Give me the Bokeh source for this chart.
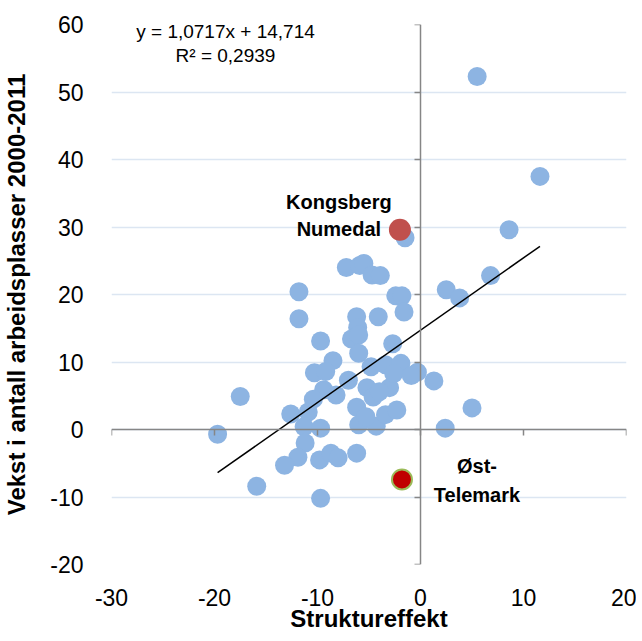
from bokeh.plotting import figure
from bokeh.models import LinearAxis, FixedTicker, Label
from bokeh.core.properties import value
from bokeh.embed import file_html
from bokeh.resources import INLINE

# ---- data ----
x_vals = [5.5, 11.6, 8.6, -1.5, 2.5, 3.8, 6.8, -7.2, -5.9, -5.5, -4.7, -3.9,
          -11.8, -2.4, -1.8, -1.6, -11.8, -6.2, -4.1, -9.7, -6.1, -6.7, -6.0,
          -2.7, -6.0, -8.5, -10.3, -9.2, -7.0, -4.8, -3.4, -1.9, -0.3, 1.3,
          5.0, 2.4, -9.4, -8.2, -10.4, -5.2, -4.6, -3.0, -6.2, -6.0, -4.3,
          -3.4, -2.3, -12.6, -10.9, -11.3, -9.7, -11.2, -11.9, -13.2, -9.8,
          -8.7, -8.0, -6.2, -19.7, -17.5, -15.9, -9.7, -5.3, -2.6, -0.9, -4.0]
y_vals = [52.3, 37.5, 29.6, 28.4, 20.7, 19.5, 22.8, 24.0, 24.3, 24.6, 22.9, 22.8,
          20.4, 19.8, 19.8, 17.4, 16.4, 16.7, 16.7, 13.1, 15.1, 13.4, 14.0,
          12.7, 11.3, 10.2, 8.4, 8.6, 7.3, 9.3, 9.6, 9.8, 8.5, 7.2,
          3.2, 0.2, 5.9, 5.1, 4.5, 6.2, 4.8, 6.2, 3.3, 0.7, 0.5,
          2.2, 2.9, 2.3, 2.6, 0.4, 0.2, -2.0, -4.1, -5.3, -4.5,
          -3.5, -4.2, -3.5, -0.7, 4.9, -8.4, -10.2, 1.9, 8.3, 8.0, 5.6]

hl_names = ["Kongsberg\nNumedal", "Øst-\nTelemark"]
hl_x = [-2.0, -1.8]
hl_y = [29.6, -7.4]

slope = 1.0717
intercept = 14.714
eq_text = "y = 1,0717x + 14,714\nR² = 0,2939"

x_ticks = [-30, -20, -10, 0, 10, 20]
y_ticks = [-20, -10, 0, 10, 20, 30, 40, 50, 60]

FONT = "Liberation Sans"
AXIS_GRAY = "#868686"

p = figure(frame_width=515, frame_height=540, x_range=(-30, 20), y_range=(-20, 60),
           output_backend="svg", toolbar_location=None,
           min_border_left=101, min_border_top=24, min_border_right=10,
           min_border_bottom=10)
p.outline_line_color = None
p.background_fill_color = "white"
p.border_fill_color = "white"

p.xgrid.visible = False
p.ygrid.ticker = FixedTicker(ticks=y_ticks)
p.ygrid.grid_line_color = "#dce6f2"
p.ygrid.grid_line_width = 1.5

# main axes (labels at frame edges)
xa = p.xaxis[0]
xa.ticker = FixedTicker(ticks=x_ticks)
xa.major_label_overrides = {t: str(t) for t in x_ticks}
xa.axis_line_color = None
xa.major_tick_line_color = None
xa.minor_tick_line_color = None
xa.major_label_text_font = FONT
xa.major_label_text_font_size = "23px"
xa.major_label_text_color = "black"
xa.major_label_standoff = 18
xa.axis_label = "Struktureffekt"
xa.axis_label_text_font = FONT
xa.axis_label_text_font_style = "bold"
xa.axis_label_text_font_size = "24px"
xa.axis_label_text_color = "black"
xa.axis_label_standoff = -4

ya = p.yaxis[0]
ya.ticker = FixedTicker(ticks=y_ticks)
ya.major_label_overrides = {t: str(t) for t in y_ticks}
ya.axis_line_color = None
ya.major_tick_line_color = None
ya.minor_tick_line_color = None
ya.major_label_text_font = FONT
ya.major_label_text_font_size = "23px"
ya.major_label_text_color = "black"
ya.major_label_standoff = 22
ya.axis_label = "Vekst i antall arbeidsplasser 2000-2011"
ya.axis_label_text_font = FONT
ya.axis_label_text_font_style = "bold"
ya.axis_label_text_font_size = "24px"
ya.axis_label_text_color = "black"
ya.axis_label_standoff = 17

# crossing axes at zero (line + ticks only)
ax0 = LinearAxis(fixed_location=0, ticker=FixedTicker(ticks=x_ticks),
                 axis_line_color=AXIS_GRAY, axis_line_width=1.5,
                 major_tick_in=6, major_tick_out=0, major_tick_line_color=AXIS_GRAY,
                 major_tick_line_width=1.5, minor_tick_line_color=None,
                 major_label_text_font_size="1px", major_label_text_color=None,
                 major_label_standoff=0)
p.add_layout(ax0, "above")
ay0 = LinearAxis(fixed_location=0, ticker=FixedTicker(ticks=y_ticks),
                 axis_line_color=AXIS_GRAY, axis_line_width=1.5,
                 major_tick_in=6, major_tick_out=0, major_tick_line_color=AXIS_GRAY,
                 major_tick_line_width=1.5, minor_tick_line_color=None,
                 major_label_text_font_size="1px", major_label_text_color=None,
                 major_label_standoff=0)
p.add_layout(ay0, "right")

# points
p.scatter(x_vals, y_vals, size=19, fill_color="#8db4e2", line_color="#8db4e2", line_width=0)
p.scatter([hl_x[0]], [hl_y[0]], size=22, fill_color="#c0504d", line_color="#c0504d", line_width=0)
p.scatter([hl_x[1]], [hl_y[1]], size=20, fill_color="#c00000", line_color="#9bbb59", line_width=2)

# trendline
all_x = x_vals + hl_x
x0, x1 = min(all_x), max(all_x)
p.line([x0, x1], [slope * x0 + intercept, slope * x1 + intercept], line_color="black", line_width=1.5)

# labels
p.text([hl_x[0]], [hl_y[0]], text=[hl_names[0]], text_font=value(FONT), text_font_style="bold",
       text_font_size="20px", text_align="center", text_baseline="middle",
       x_offset=-61, y_offset=-14, text_line_height=1.25, text_color="black")
p.text([hl_x[1]], [hl_y[1]], text=[hl_names[1]], text_font=value(FONT), text_font_style="bold",
       text_font_size="20px", text_align="center", text_baseline="middle",
       x_offset=75, y_offset=1, text_line_height=1.3, text_color="black")

p.add_layout(Label(x=114, y=521, x_units="screen", y_units="screen", text=eq_text,
                   text_font=FONT, text_font_size="19px", text_align="center",
                   text_baseline="middle", text_color="black", text_line_height=1.15))

open("out.html", "w").write(file_html(p, INLINE))
